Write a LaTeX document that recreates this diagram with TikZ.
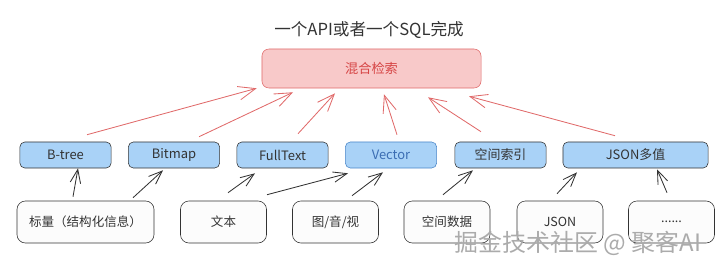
\documentclass[tikz,border=0pt]{standalone}
\usepackage{fontspec}
\setmainfont{Noto Sans CJK SC}
\usepackage{tikz}
\usetikzlibrary{arrows.meta,calc}
\definecolor{Ink}{HTML}{333333}
\definecolor{HybridFill}{HTML}{F8C9C9}
\definecolor{HybridLine}{HTML}{E06A6A}
\definecolor{HybridText}{HTML}{D64545}
\definecolor{IndexFill}{HTML}{A9D2F7}
\definecolor{VectorLine}{HTML}{4A86C8}
\definecolor{VectorText}{HTML}{3B6DB3}
\definecolor{SourceFill}{HTML}{FCFCFC}
\definecolor{MarkGray}{HTML}{ABABAB}
\tikzset{
  hybridBox/.style={rectangle,rounded corners=5pt,draw=HybridLine,fill=HybridFill,
    text=HybridText,minimum width=5.475cm,minimum height=.975cm,font=\fontsize{9.4}{10}\selectfont},
  indexBox/.style={rectangle,rounded corners=3.5pt,draw=Ink,fill=IndexFill,text=Ink,
    minimum width=2.28cm,minimum height=.65cm,inner sep=1pt,font=\fontsize{9.2}{10}\selectfont},
  sourceBox/.style={rectangle,rounded corners=6pt,draw=Ink,fill=SourceFill,text=Ink,
    minimum width=2.15cm,minimum height=1.05cm,inner sep=1pt,font=\fontsize{8.9}{10}\selectfont},
  merge/.style={-{Straight Barb[length=4.3mm,width=3.4mm]},draw=HybridLine,line width=.6pt},
  feed/.style={-{Straight Barb[length=3.4mm,width=2.6mm]},draw=Ink,line width=.6pt}
}

\begin{document}
\begin{tikzpicture}[x=0.025cm,y=-0.025cm]
  \useasboundingbox (0,0) rectangle (720,269);

  % Title and hybrid search box
  \node[text=Ink,font=\fontsize{11.8}{13}\selectfont] (title) at (369,30) {一个API或者一个SQL完成};
  \node[hybridBox] (hybrid) at (371.5,68.5) {混合检索};

  % Index row
  \node[indexBox] (btree) at (65.5,155) {B-tree};
  \node[indexBox] (bitmap) at (174,155) {Bitmap};
  \node[indexBox] (fulltext) at (282.5,155) {FullText};
  \node[indexBox,draw=VectorLine,text=VectorText] (vector) at (391,155) {Vector};
  \node[indexBox] (spatialidx) at (500.5,155) {空间索引};
  \node[indexBox,minimum width=3.625cm] (jsonmv) at (635.5,155) {JSON多值};

  % Data row
  \node[sourceBox,minimum width=3.425cm] (scalar) at (85.5,222) {标量（结构化信息）};
  \node[sourceBox] (text) at (223.5,222) {文本};
  \node[sourceBox] (media) at (335.5,222) {图/音/视};
  \node[sourceBox] (spatialdata) at (447,222) {空间数据};
  \node[sourceBox] (json) at (560,222) {JSON};
  \node[sourceBox] (more) at (671.5,222) {......};

  % Indexes into hybrid search
  \draw[merge] ($(btree.north)+(21.5,-7)$) -- ($(hybrid.south west)+(-5,0)$);
  \draw[merge] ($(bitmap.north)+(25,-5)$) -- ($(hybrid.south)+(-78.5,4)$);
  \draw[merge] ($(fulltext.north)+(15.5,-8)$) -- ($(hybrid.south)+(-36.5,5)$);
  \draw[merge] ($(vector.north)+(6,-7)$) -- ($(hybrid.south)+(12.5,6)$);
  \draw[merge] ($(spatialidx.north)+(-19.5,-10)$) -- ($(hybrid.south)+(56.5,9)$);
  \draw[merge] ($(jsonmv.north)+(-20.5,-6)$) -- ($(hybrid.south)+(97.5,8)$);

  % Data into indexes
  \draw[feed] ($(scalar.north)+(-12.5,-4)$) -- ($(btree.south)+(12.5,0)$);
  \draw[feed] ($(scalar.north)+(47.5,-3)$) -- ($(bitmap.south)+(-11,2)$);
  \draw[feed] ($(text.north)+(4.5,-8)$) -- ($(fulltext.south)+(-27.5,5)$);
  \draw[feed] ($(text.north)+(43.5,-6)$) -- ($(vector.south)+(-43,5)$);
  \draw[feed] ($(media.north)+(16.5,-5)$) -- ($(vector.south)+(-8,4)$);
  \draw[feed] ($(spatialdata.north)+(-4,-6)$) -- ($(spatialidx.south)+(-27.5,2)$);
  \draw[feed] ($(json.north)+(-3,-7)$) -- ($(jsonmv.south)+(-58.5,4)$);
  \draw[feed] ($(more.north)+(-4.5,-8)$) -- ($(jsonmv.south)+(21.5,1)$);

  % Watermark
  \node[text=MarkGray,font=\fontsize{17}{18}\selectfont] (mark) at (578,243) {掘金技术社区 @ 聚客AI};
\end{tikzpicture}
\end{document}
